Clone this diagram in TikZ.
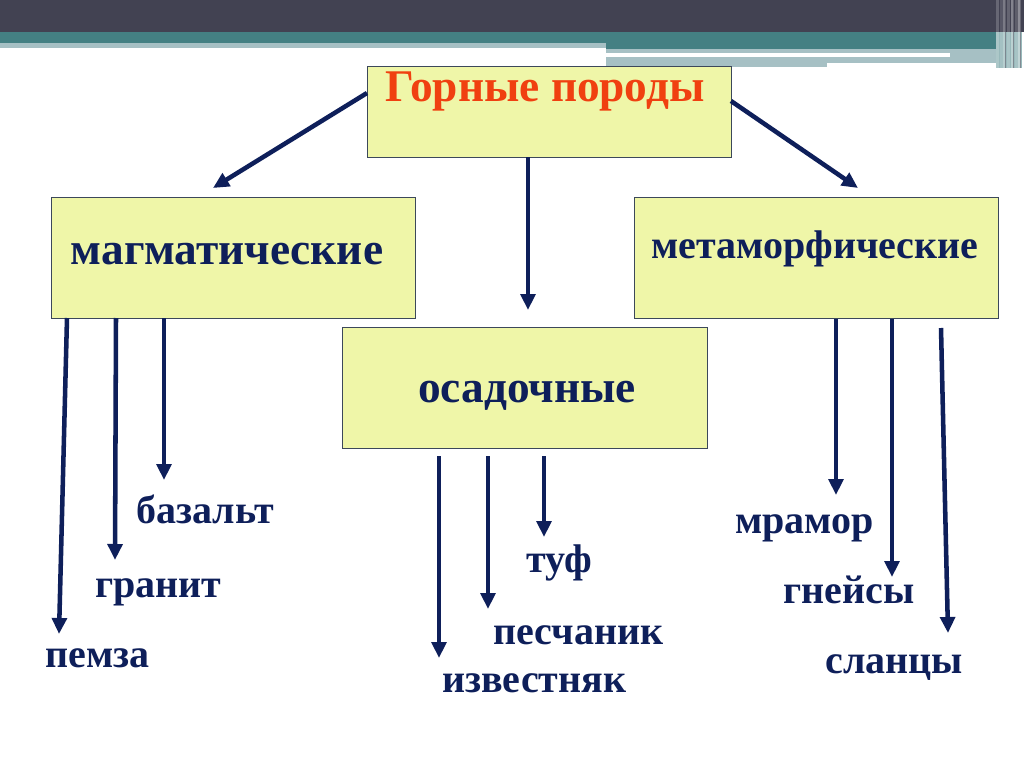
\documentclass[tikz,border=0pt]{standalone}
\usepackage{fontspec}
\setmainfont{Liberation Serif}
\usetikzlibrary{arrows.meta}
\definecolor{barDark}{RGB}{66,66,82}
\definecolor{barTeal}{RGB}{68,128,131}
\definecolor{barLight}{RGB}{166,192,196}
\definecolor{boxFill}{RGB}{239,246,168}
\definecolor{boxLine}{RGB}{60,72,90}
\definecolor{navy}{RGB}{14,31,90}
\definecolor{titleRed}{RGB}{240,64,16}
\begin{document}
\begin{tikzpicture}[x=0.75pt,y=-0.75pt,
 box/.style={draw=boxLine, line width=1.1pt, fill=boxFill, inner sep=0pt, anchor=north west},
 arr/.style={draw=navy, line width=3.4pt, -{Triangle[length=12pt,width=11pt]}},
 headtxt/.style={font=\bfseries\fontsize{34}{38}\selectfont, text=navy, anchor=base, inner sep=0pt},
 leaf/.style={font=\bfseries\fontsize{30}{34}\selectfont, text=navy, anchor=base west, inner sep=0pt},
]
\useasboundingbox (0,0) rectangle (1024,767);
% top decoration
\fill[barDark] (0,0) rectangle (1024,32);
\fill[barTeal] (0,32) rectangle (1000,43);
\fill[barLight] (0,43) rectangle (606,48);
\fill[barTeal] (606,43) rectangle (1000,49);
\fill[barLight] (606,49) rectangle (827,67);
\fill[barLight] (827,49) rectangle (1000,63);
\fill[white] (606,53) rectangle (950,57);
\fill[barTeal!55] (996,32) rectangle (1022,68);
\foreach \sx/\op in {996/0.2,1000/0.12,1003/0.3,1007/0.18,1011/0.35,1015/0.15,1018/0.4}
  \fill[white,opacity=\op] (\sx,0) rectangle (\sx+2.5,68);
\foreach \sx in {1005,1013,1020}
  \fill[barDark,opacity=0.5] (\sx,0) rectangle (\sx+1,68);

% boxes
\node[box, minimum width=364*0.75pt, minimum height=91*0.75pt] (top) at (367,66) {};
\node[box, minimum width=364*0.75pt, minimum height=121*0.75pt] (mag) at (51,197) {};
\node[box, minimum width=364*0.75pt, minimum height=121*0.75pt] (met) at (634,197) {};
\node[box, minimum width=365*0.75pt, minimum height=121*0.75pt] (osa) at (342,327) {};

% box texts
\node[font=\bfseries\fontsize{34}{37}\selectfont, text=titleRed, anchor=base, inner sep=0pt] (toptxt) at (545,101) {Горные породы};
\node[headtxt] (magtxt) at (227,264) {магматические};
\node[headtxt, font=\bfseries\fontsize{30}{33}\selectfont] (mettxt) at (815,258) {метаморфические};
\node[headtxt] (osatxt) at (527,402) {осадочные};

% leaf texts
\node[leaf] (bazalt) at (136,523) {базальт};
\node[leaf] (granit) at (95,597) {гранит};
\node[leaf] (pemza) at (45,667) {пемза};
\node[leaf] (tuf) at (526,572) {туф};
\node[leaf] (pesch) at (493,644) {песчаник};
\node[leaf] (izv) at (442,692) {известняк};
\node[leaf] (mramor) at (735,533) {мрамор};
\node[leaf] (gneis) at (783,603) {гнейсы};
\node[leaf] (slanc) at (825,673) {сланцы};

% connector end points
\coordinate (tl0) at (367,93);   \coordinate (tl1) at (213,188);
\coordinate (tr0) at (731,101);  \coordinate (tr1) at (858,188);
\coordinate (tc0) at (528,157);  \coordinate (tc1) at (528,310);
\coordinate (m10) at (67,318);   \coordinate (m11) at (59,634);
\coordinate (m20) at (116,318);  \coordinate (m21) at (115,560);
\coordinate (m30) at (164,318);  \coordinate (m31) at (164,480);
\coordinate (o10) at (439,456);  \coordinate (o11) at (439,658);
\coordinate (o20) at (488,456);  \coordinate (o21) at (488,609);
\coordinate (o30) at (544,456);  \coordinate (o31) at (544,537);
\coordinate (r10) at (836,319);  \coordinate (r11) at (836,495);
\coordinate (r20) at (892,319);  \coordinate (r21) at (892,577);
\coordinate (r30) at (941,328);  \coordinate (r31) at (948,633);

\draw[arr] (tl0) -- (tl1);
\draw[arr] (tr0) -- (tr1);
\draw[arr] (tc0) -- (tc1);
\draw[arr] (m10) -- (m11);
\draw[arr] (m20) -- (m21);
\draw[arr] (m30) -- (m31);
\draw[arr] (o10) -- (o11);
\draw[arr] (o20) -- (o21);
\draw[arr] (o30) -- (o31);
\draw[arr] (r10) -- (r11);
\draw[arr] (r20) -- (r21);
\draw[arr] (r30) -- (r31);
\end{tikzpicture}
\end{document}
